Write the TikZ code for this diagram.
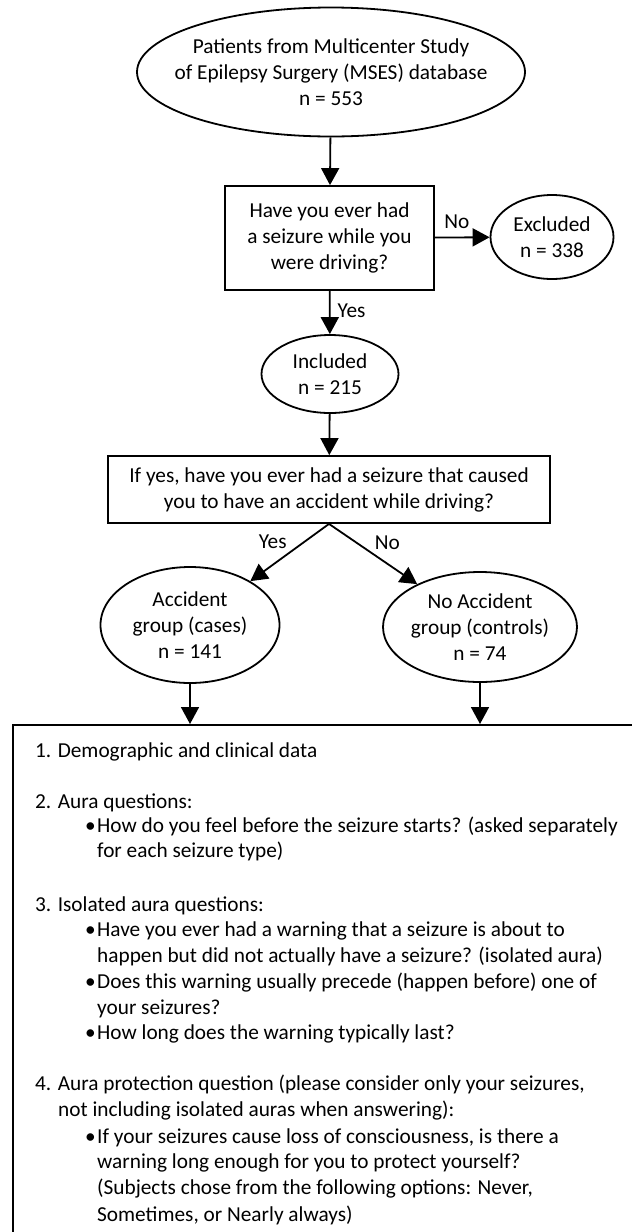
\documentclass[tikz,border=0pt]{standalone}
\usepackage{fontspec}
\setmainfont{Carlito}
\usetikzlibrary{arrows.meta,shapes.geometric}
\begin{document}
\begin{tikzpicture}[x=1pt,y=-1pt,
  every node/.style={font=\fontsize{21.3}{26}\selectfont, inner sep=0pt},
  oval/.style={draw, ellipse, line width=1.8pt, align=center},
  qbox/.style={draw, rectangle, line width=1.8pt, align=center},
  conn/.style={line width=1.8pt, -{Triangle[length=17pt,width=18pt]}},
  txt/.style={anchor=base west}
]
\useasboundingbox (0,0) rectangle (632,1232);
\clip (0,0) rectangle (632,1232);

\node[oval, inner xsep=-22pt, minimum width=388pt, minimum height=129pt] (top) at (331,72)
  {Patients from Multicenter Study\\of Epilepsy Surgery (MSES) database\\n = 553};
\node[qbox, minimum width=209pt, minimum height=104pt] (q1) at (329.5,238)
  {Have you ever had\\a seizure while you\\were driving?};
\node[oval, minimum width=123pt, minimum height=84pt] (excl) at (552,237)
  {Excluded\\n = 338};
\node[oval, minimum width=137pt, minimum height=78pt] (incl) at (330,374)
  {Included\\n = 215};
\node[qbox, minimum width=442pt, minimum height=67pt] (q2) at (329,489.5)
  {If yes, have you ever had a seizure that caused\\you to have an accident while driving?};
\node[oval, minimum width=179pt, minimum height=116pt] (acc) at (190,625)
  {Accident\\group (cases)\\n = 141};
\node[oval, inner xsep=-4pt, minimum width=194pt, minimum height=110pt] (noacc) at (480,627)
  {No Accident\\group (controls)\\n = 74};
\node[draw, rectangle, line width=1.8pt, anchor=north west, minimum width=660pt, minimum height=560pt] (big) at (12,724) {};

\draw[conn] (top) -- (q1);
\draw[conn] (q1) -- node[pos=0.4, anchor=south, yshift=8pt] {No} (excl);
\draw[conn] (q1) -- node[pos=0.45, anchor=west, xshift=7pt] {Yes} (incl);
\draw[conn] (incl) -- (q2);
\draw[conn] (q2.south) -- node[pos=0.35, anchor=east, xshift=-14pt, yshift=2pt] {Yes} (acc);
\draw[conn] (q2.south) -- node[pos=0.35, anchor=west, xshift=14pt, yshift=2pt] {No} (noacc);
\draw[conn] (acc.south) -- (acc.south |- big.north);
\draw[conn] (noacc.south) -- (noacc.south |- big.north);

\node[txt] (t1) at (35,757) {1. Demographic and clinical data};
\node[txt] (t2) at (35,808) {2. Aura questions:};
\node[txt] (t2a) at (85,832) {\makebox[12pt][l]{•}How do you feel before the seizure starts? (asked separately};
\node[txt] (t2b) at (97,857) {for each seizure type)};
\node[txt] (t3) at (35,911) {3. Isolated aura questions:};
\node[txt] (t3a) at (85,936) {\makebox[12pt][l]{•}Have you ever had a warning that a seizure is about to};
\node[txt] (t3b) at (97,962) {happen but did not actually have a seizure? (isolated aura)};
\node[txt] (t3c) at (85,988) {\makebox[12pt][l]{•}Does this warning usually precede (happen before) one of};
\node[txt] (t3d) at (97,1014) {your seizures?};
\node[txt] (t3e) at (85,1039) {\makebox[12pt][l]{•}How long does the warning typically last?};
\node[txt] (t4) at (35,1090) {4. Aura protection question (please consider only your seizures,};
\node[txt] (t4b) at (58,1116) {not including isolated auras when answering):};
\node[txt] (t4c) at (85,1143) {\makebox[12pt][l]{•}If your seizures cause loss of consciousness, is there a};
\node[txt] (t4d) at (97,1168) {warning long enough for you to protect yourself?};
\node[txt] (t4e) at (97,1194) {(Subjects chose from the following options: Never,};
\node[txt] (t4f) at (97,1221) {Sometimes, or Nearly always)};
\end{tikzpicture}
\end{document}
